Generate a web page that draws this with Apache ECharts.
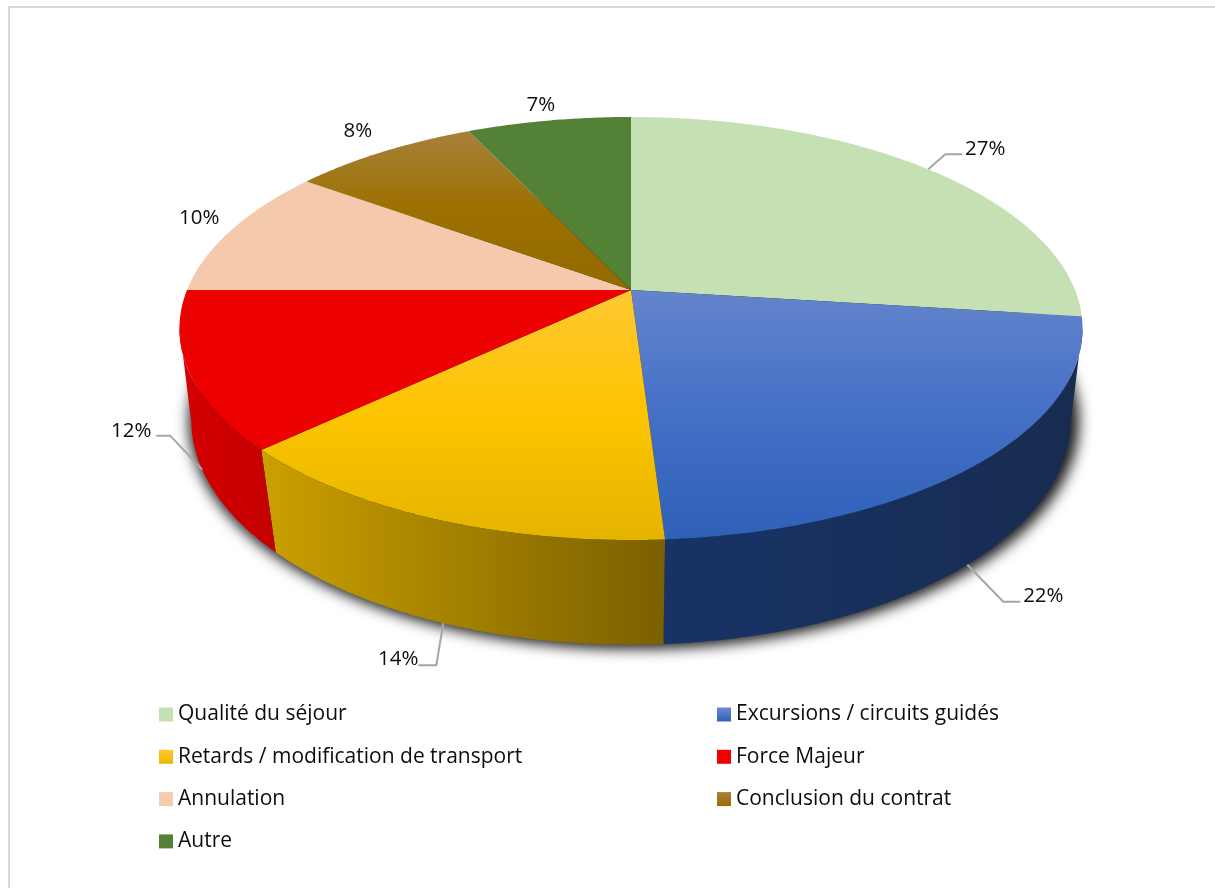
<!DOCTYPE html>
<html lang="fr">
<head>
<meta charset="utf-8">
<title>Motifs de réclamation</title>
<script src="https://cdn.jsdelivr.net/npm/echarts@6/dist/echarts.min.js"></script>
<style>
  html, body { margin: 0; padding: 0; background: #fff; }
  #chart { width: 1215px; height: 888px; }
</style>
</head>
<body>
<div id="chart"></div>
<script>
// Categories and their shares, in percent, clockwise from twelve o'clock
const categories = [
  'Qualité du séjour',
  'Excursions / circuits guidés',
  'Retards / modification de transport',
  'Force Majeur',
  'Annulation',
  'Conclusion du contrat',
  'Autre'
];
const shares = [27, 22, 14, 12, 10, 8, 7];

// Top-face fill stops per slice, from the back of the disc to the front
const topStops = [
  ['#c5e0b3', '#c5e0b3'],
  ['#6484cc', '#4470c6', '#2f60b8'],
  ['#ffc832', '#fdc400', '#e5b400'],
  ['#ec0000', '#ec0000'],
  ['#f4c9ac', '#f4c9ac'],
  ['#a8803a', '#9c7000', '#936a00'],
  ['#538135', '#538135']
];
// Rim colours per slice, left to right
const rimStops = [
  null,
  ['#173367', '#182c50'],
  ['#cba000', '#7a6000'],
  ['#d40000', '#c40000'],
  null, null, null
];
const legendColors = [
  ['#c5e0b3', '#c5e0b3'], ['#6a8ad0', '#2f62bb'], ['#ffc832', '#e9b800'],
  ['#f00000', '#f00000'], ['#f7cbae', '#f7cbae'], ['#a8803a', '#9a6e00'], ['#538135', '#538135']
];

// Label placement, relative to the point where each slice's middle meets the disc edge
const labelOffsets = [[57, -20], [76, 31], [-45, 36], [-71, -39], [-32, -12], [-25, -21], [-8, -15]];
const leaderElbows = [[[17, -15], [34, -15]], [[36, 37], [53, 37]], [[-7, 42], [-25, 42]], [[-32, -34], [-46, -34]], null, null, null];
const anchorOnRim = [false, true, true, true, false, false, false];

// Perspective discs: a unit circle projected with depth factor k
const topDisc = { cx: 631, cy: 290, a: 444, b: 204.5, k: 0.182 };
const baseDisc = { cx: 631, cy: 384, a: 434, b: 219, k: 0.16 };

function project(disc, deg) {
  const t = deg * Math.PI / 180;
  const u = Math.sin(t), v = -Math.cos(t);
  const d = 1 - disc.k * v;
  return [disc.cx + disc.a * u / d, disc.cy + disc.b * v / d];
}

function arc(disc, from, to) {
  const pts = [];
  const n = Math.max(2, Math.ceil(Math.abs(to - from) * 2));
  for (let i = 0; i <= n; i++) pts.push(project(disc, from + (to - from) * i / n));
  return pts;
}

function stopsOf(colors) {
  return colors.map((c, i) => ({ offset: i / (colors.length - 1), color: c }));
}

const total = shares.reduce((s, v) => s + v, 0);
const starts = [];
shares.reduce((acc, v, i) => { starts[i] = acc; return acc + v; }, 0);

function renderSlice(idx) {
  return function (params, api) {
    const value = api.value(0);
    const a0 = starts[idx] / total * 360;
    const a1 = a0 + value / total * 360;
    const mid = (a0 + a1) / 2;
    const children = [];

    // Rim: only the part of the slice that faces the viewer
    if (rimStops[idx]) {
      const visFrom = Math.max(a0, 100);
      const visTo = Math.min(a1, 260);
      const top = arc(topDisc, visFrom, visTo);
      const base = arc(baseDisc, visFrom, visTo);
      const xs = top.concat(base).map(p => p[0]);
      children.push({
        type: 'polygon',
        shape: { points: top.concat(base.reverse()) },
        style: {
          fill: new echarts.graphic.LinearGradient(
            Math.min.apply(null, xs), 0, Math.max.apply(null, xs), 0,
            stopsOf(rimStops[idx]), true)
        }
      });
    }

    // Top face
    const edge = arc(topDisc, a0, a1);
    const pts = [[topDisc.cx, topDisc.cy]].concat(edge);
    const ys = pts.map(p => p[1]);
    children.push({
      type: 'polygon',
      shape: { points: pts },
      style: {
        fill: new echarts.graphic.LinearGradient(
          0, Math.min.apply(null, ys), 0, Math.max.apply(null, ys),
          stopsOf(topStops[idx]), true)
      }
    });

    // Leader line and percentage label
    const anchor = project(anchorOnRim[idx] ? baseDisc : topDisc, mid);
    const at = o => [anchor[0] + o[0], anchor[1] + o[1]];
    if (leaderElbows[idx]) {
      children.push({
        type: 'polyline',
        shape: { points: [anchor].concat(leaderElbows[idx].map(at)) },
        style: { stroke: '#a6a6a6', lineWidth: 2, fill: null }
      });
    }
    const lp = at(labelOffsets[idx]);
    children.push({
      type: 'text',
      style: {
        text: value + '%', x: lp[0], y: lp[1],
        textAlign: 'center', textVerticalAlign: 'middle',
        font: '20.5px "Open Sans"', fill: '#0d0d0d'
      }
    });
    return { type: 'group', children: children };
  };
}

// Soft shadow around the front of the disc: the casting shape sits off the
// canvas so that only its blurred shadow lands on the page
function renderShadow() {
  const away = 3000;
  return {
    type: 'polygon',
    shape: {
      points: arc(baseDisc, 0, 360).map(p => [
        baseDisc.cx + (p[0] - baseDisc.cx) * 1.012 - away,
        baseDisc.cy + (p[1] - baseDisc.cy) * 1.012
      ])
    },
    style: {
      fill: '#000',
      shadowColor: 'rgba(0,0,0,0.9)',
      shadowBlur: 14,
      shadowOffsetX: away + 3,
      shadowOffsetY: 1
    }
  };
}

const sliceSeries = categories.map((name, i) => ({
  type: 'custom',
  name: name,
  coordinateSystem: 'none',
  silent: true,
  z: 3,
  itemStyle: {
    color: new echarts.graphic.LinearGradient(0, 0, 0, 1, stopsOf(legendColors[i]))
  },
  renderItem: renderSlice(i),
  data: [shares[i]]
}));

const legendBase = {
  orient: 'vertical',
  top: 701,
  itemWidth: 14,
  itemHeight: 14,
  itemGap: 15.3,
  padding: 0,
  icon: 'rect',
  selectedMode: false,
  textStyle: { fontFamily: '"Open Sans"', fontSize: 21, color: '#0d0d0d', lineHeight: 27 }
};

const chart = echarts.init(document.getElementById('chart'));
chart.setOption({
  animation: false,
  backgroundColor: '#ffffff',
  graphic: [{
    type: 'rect',
    silent: true,
    z: 0,
    shape: { x: 9, y: 7, width: 1400, height: 1100 },
    style: { fill: 'none', stroke: '#d9d9d9', lineWidth: 2 }
  }],
  legend: [
    Object.assign({}, legendBase, { left: 159, data: categories.filter((c, i) => i % 2 === 0) }),
    Object.assign({}, legendBase, { left: 717, data: categories.filter((c, i) => i % 2 === 1) })
  ],
  series: [{
    type: 'custom',
    name: 'ombre',
    coordinateSystem: 'none',
    silent: true,
    z: 1,
    renderItem: renderShadow,
    data: [1]
  }].concat(sliceSeries)
});
</script>
</body>
</html>
